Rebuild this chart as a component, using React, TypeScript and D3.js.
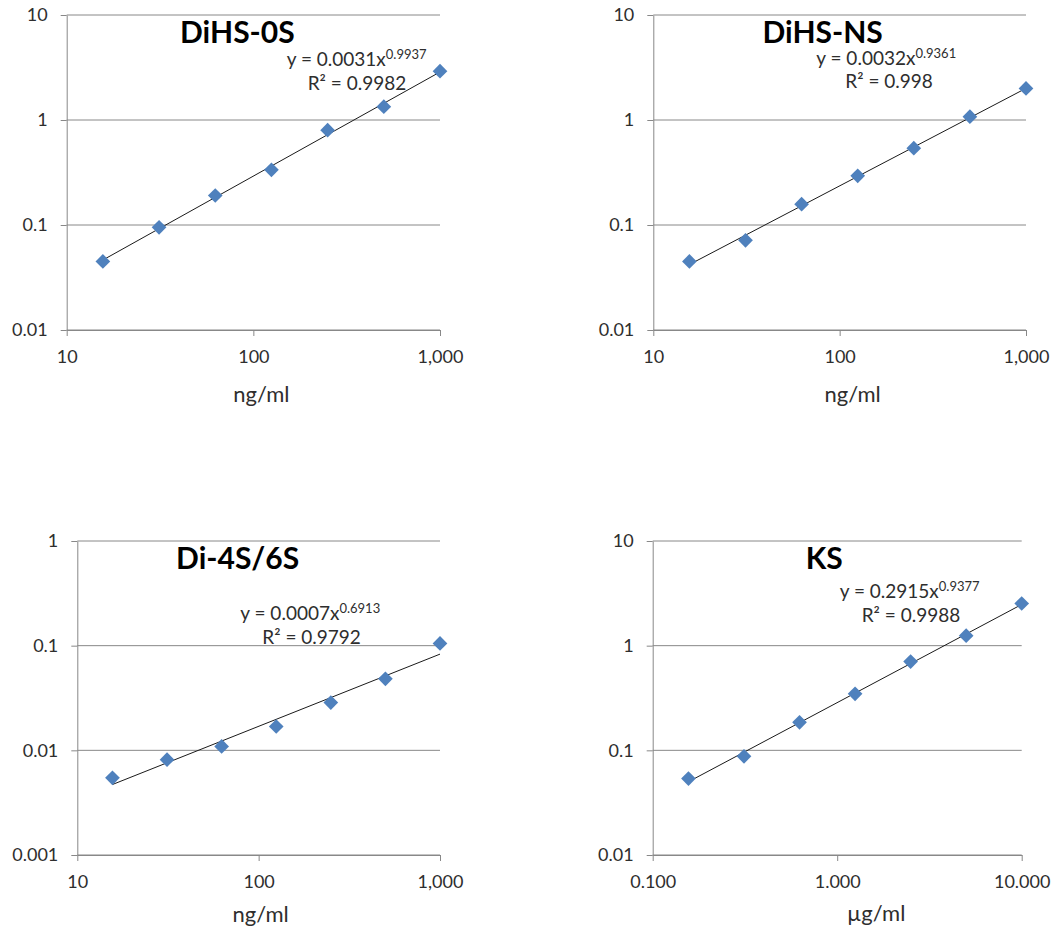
import { useEffect, useRef } from 'react'
import * as d3 from 'd3'

// concentrations (2-fold dilution series)
const CONC_NG = [15.625, 31.25, 62.5, 125, 250, 500, 1000]
const CONC_UG = [0.15625, 0.3125, 0.625, 1.25, 2.5, 5, 10]

const DIHS_0S = [0.045, 0.095, 0.191, 0.335, 0.8, 1.34, 2.92]
const DIHS_NS = [0.045, 0.0714, 0.158, 0.294, 0.539, 1.076, 2.0]
const DI_4S6S = [0.00546, 0.00815, 0.0109, 0.0169, 0.0286, 0.0482, 0.105]
const KS_VALS = [0.0537, 0.0877, 0.185, 0.347, 0.705, 1.245, 2.53]

const X_TICKS_NG = [10, 100, 1000]
const X_LABELS_NG = ['10', '100', '1,000']
const X_TICKS_UG = [0.1, 1, 10]
const X_LABELS_UG = ['0.100', '1.000', '10.000']
const Y_TICKS_A = [0.01, 0.1, 1, 10]
const Y_LABELS_A = ['0.01', '0.1', '1', '10']
const Y_TICKS_B = [0.001, 0.01, 0.1, 1]
const Y_LABELS_B = ['0.001', '0.01', '0.1', '1']

const TITLES = ['DiHS-0S', 'DiHS-NS', 'Di-4S/6S', 'KS']
const UNITS = ['ng/ml', 'ng/ml', 'ng/ml', 'µg/ml']
const EQ_MAIN = ['y = 0.0031x', 'y = 0.0032x', 'y = 0.0007x', 'y = 0.2915x']
const EQ_EXP = ['0.9937', '0.9361', '0.6913', '0.9377']
const EQ_R2 = ['R² = 0.9982', 'R² = 0.998', 'R² = 0.9792', 'R² = 0.9988']

const SERIES = [
  { xs: CONC_NG, ys: DIHS_0S, xt: X_TICKS_NG, xl: X_LABELS_NG, yt: Y_TICKS_A, yl: Y_LABELS_A },
  { xs: CONC_NG, ys: DIHS_NS, xt: X_TICKS_NG, xl: X_LABELS_NG, yt: Y_TICKS_A, yl: Y_LABELS_A },
  { xs: CONC_NG, ys: DI_4S6S, xt: X_TICKS_NG, xl: X_LABELS_NG, yt: Y_TICKS_B, yl: Y_LABELS_B },
  { xs: CONC_UG, ys: KS_VALS, xt: X_TICKS_UG, xl: X_LABELS_UG, yt: Y_TICKS_A, yl: Y_LABELS_A },
]

// plot-area boxes and label offsets
const LAYOUT = [
  { l: 66.7, r: 440, t: 15, b: 330, titleDx: -16, unitDx: 8, unitDy: 72, eq: [220, 51], r2: [241, 75] },
  { l: 653.3, r: 1026, t: 15, b: 330, titleDx: -17, unitDx: 13, unitDy: 72, eq: [163, 50], r2: [192, 73] },
  { l: 77.3, r: 440, t: 541, b: 855, titleDx: -21, unitDx: 2, unitDy: 67, eq: [163, 79], r2: [185, 103] },
  { l: 652.7, r: 1021.7, t: 541, b: 855, titleDx: -13, unitDx: 39, unitDy: 66, eq: [187, 57], r2: [209, 81] },
]

const GRID = '#888888'
const TEXT = '#2e2e2e'
const MARKER = '#4F81BD'
const FONT = 'Lato, "Open Sans", sans-serif'

// least squares in log-log space (power trendline)
function powerFit(xs: number[], ys: number[]) {
  const lx = xs.map(Math.log), ly = ys.map(Math.log)
  const mx = d3.mean(lx)!, my = d3.mean(ly)!
  const b = d3.sum(lx, (v, i) => (v - mx) * (ly[i] - my)) / d3.sum(lx, v => (v - mx) ** 2)
  const a = Math.exp(my - b * mx)
  return (x: number) => a * Math.pow(x, b)
}

export default function App() {
  const svgRef = useRef<SVGSVGElement>(null)

  useEffect(() => {
    const svg = d3.select(svgRef.current)
    svg.selectAll('*').remove()

    SERIES.forEach((s, k) => {
      const L = LAYOUT[k]
      const x = d3.scaleLog().domain([s.xt[0], s.xt[s.xt.length - 1]]).range([L.l, L.r])
      const y = d3.scaleLog().domain([s.yt[0], s.yt[s.yt.length - 1]]).range([L.b, L.t])
      const g = svg.append('g')

      // horizontal gridlines
      g.selectAll('.grid').data(s.yt).join('line')
        .attr('x1', L.l).attr('x2', L.r)
        .attr('y1', d => y(d)).attr('y2', d => y(d))
        .attr('stroke', GRID).attr('stroke-width', 1)

      // axes
      g.append('g')
        .attr('transform', `translate(0,${L.b})`)
        .call(d3.axisBottom(x).tickValues(s.xt).tickFormat((d, i) => s.xl[i]).tickSizeInner(6).tickSizeOuter(0).tickPadding(14))
        .call(ax => ax.select('.domain').attr('stroke', GRID))
        .call(ax => ax.selectAll('.tick line').attr('stroke', GRID))
        .call(ax => ax.selectAll('text').attr('font-size', 18).attr('font-family', FONT).attr('fill', TEXT))

      g.append('g')
        .attr('transform', `translate(${L.l},0)`)
        .call(d3.axisLeft(y).tickValues(s.yt).tickFormat((d, i) => s.yl[i]).tickSizeInner(6).tickSizeOuter(0).tickPadding(13))
        .call(ax => ax.select('.domain').attr('stroke', GRID))
        .call(ax => ax.selectAll('.tick line').attr('stroke', GRID))
        .call(ax => ax.selectAll('text').attr('font-size', 18).attr('font-family', FONT).attr('fill', TEXT))

      // trendline
      const fit = powerFit(s.xs, s.ys)
      const ends = d3.extent(s.xs) as [number, number]
      g.append('path')
        .datum(ends)
        .attr('fill', 'none').attr('stroke', '#1a1a1a').attr('stroke-width', 1)
        .attr('d', d3.line<number>().x(d => x(d)).y(d => y(fit(d))))

      // markers (diamonds)
      g.selectAll('.pt').data(s.xs).join('path')
        .attr('d', d3.symbol(d3.symbolSquare, 108)())
        .attr('transform', (d, i) => `translate(${x(d)},${y(s.ys[i])}) rotate(45)`)
        .attr('fill', MARKER)

      // title
      g.append('text')
        .attr('x', (L.l + L.r) / 2 + L.titleDx).attr('y', L.t + 28)
        .attr('text-anchor', 'middle')
        .attr('font-family', FONT).attr('font-weight', 700).attr('font-size', 30).attr('fill', '#000')
        .text(TITLES[k])

      // equation
      const eq = g.append('text')
        .attr('x', L.l + L.eq[0]).attr('y', L.t + L.eq[1])
        .attr('font-family', FONT).attr('font-size', 19).attr('fill', TEXT)
      eq.append('tspan').text(EQ_MAIN[k])
      eq.append('tspan').attr('dy', -7).attr('font-size', 13).text(EQ_EXP[k])

      g.append('text')
        .attr('x', L.l + L.r2[0]).attr('y', L.t + L.r2[1])
        .attr('font-family', FONT).attr('font-size', 19).attr('fill', TEXT)
        .text(EQ_R2[k])

      // axis title
      g.append('text')
        .attr('x', (L.l + L.r) / 2 + L.unitDx).attr('y', L.b + L.unitDy)
        .attr('text-anchor', 'middle')
        .attr('font-family', FONT).attr('font-size', 22).attr('fill', TEXT)
        .text(UNITS[k])
    })
  }, [])

  return (
    <svg
      ref={svgRef}
      width={1058}
      height={935}
      style={{ position: 'absolute', left: 0, top: 0, background: '#fff' }}
    />
  )
}
